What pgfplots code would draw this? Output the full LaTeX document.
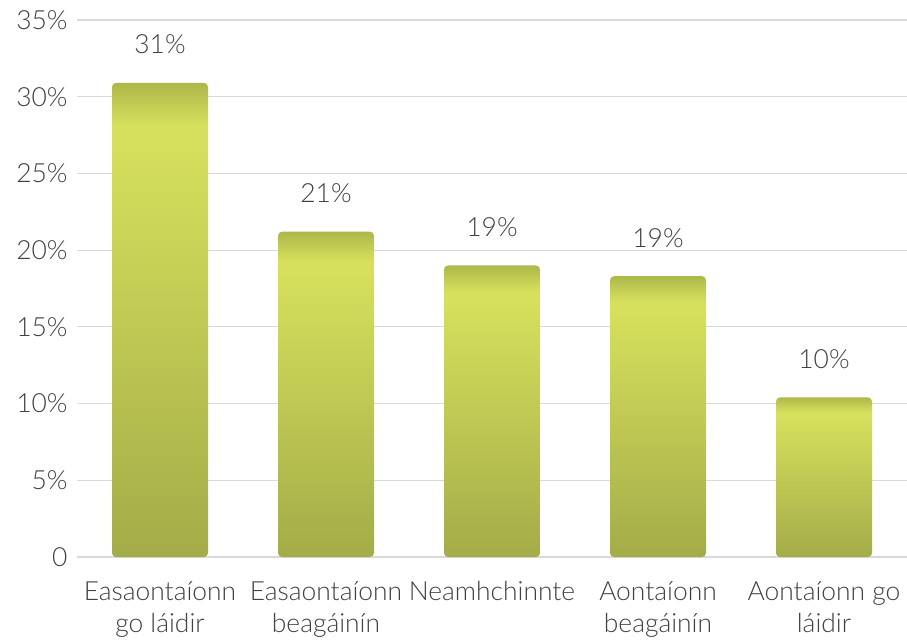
\documentclass[border=0pt]{standalone}
\usepackage{fontspec}
\setmainfont{Lato Light}
\usepackage{pgfplots}
\pgfplotsset{compat=1.18}
\definecolor{txt}{HTML}{404040}
\definecolor{gridc}{HTML}{D9D9D9}
\definecolor{barbot}{HTML}{A3AC48}
\definecolor{barbright}{HTML}{D6E05C}
\definecolor{bartop}{HTML}{AEB84A}
\pgfdeclareverticalshading{barshade}{100bp}{color(0bp)=(barbot); color(25bp)=(barbot); color(69bp)=(barbright); color(70.5bp)=(barbright); color(75bp)=(bartop); color(100bp)=(bartop)}
\pgfplotsset{
  onebar/.style={ybar, bar shift=0pt, bar width=96bp, draw=none, shading=barshade,
    rounded corners=4bp, point meta=explicit symbolic, nodes near coords,
    every node near coord/.append style={font=\fontsize{26.5}{32}\selectfont, text=txt, anchor=base, yshift=29bp}},
}
\begin{document}
\begin{tikzpicture}
\begin{axis}[
    scale only axis,
    width=830bp, height=537bp,
    ymin=0, ymax=35,
    xmin=-0.5, xmax=4.5,
    ytick={0,5,...,35},
    yticklabels={0,5\%,10\%,15\%,20\%,25\%,30\%,35\%},
    xtick={0,1,2,3,4},
    xticklabels={Easaontaíonn\\go láidir, Easaontaíonn\\beagáinín, Neamhchinnte, Aontaíonn\\beagáinín, Aontaíonn go\\láidir},
    axis line style={draw=none},
    major tick length=0pt,
    ymajorgrids,
    grid style={gridc, line width=1.2bp},
    tick label style={font=\fontsize{26.5}{32}\selectfont, text=txt},
    xticklabel style={align=center, yshift=-21bp},
    yticklabel style={xshift=-6bp},
    clip=false,
]
\addplot[onebar] coordinates {(0,30.9) [31\%]};
\addplot[onebar] coordinates {(1,21.2) [21\%]};
\addplot[onebar] coordinates {(2,19.0) [19\%]};
\addplot[onebar] coordinates {(3,18.3) [19\%]};
\addplot[onebar] coordinates {(4,10.4) [10\%]};
\end{axis}
\pgfresetboundingbox
\path ([shift={(-77bp,-84bp)}]current axis.south west) rectangle ([shift={(0bp,20bp)}]current axis.north east);
\end{tikzpicture}
\end{document}
